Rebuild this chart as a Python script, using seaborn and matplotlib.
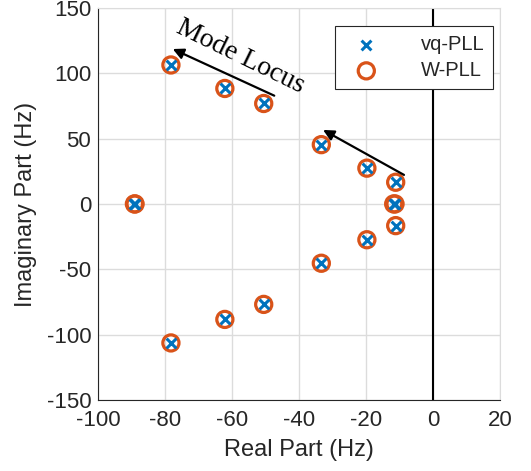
import numpy as np
import pandas as pd
import matplotlib
matplotlib.use("Agg")
import matplotlib.pyplot as plt
import seaborn as sns

# Eigenvalues (Hz)
real_vq = [-89.2, -89.0, -78.3, -62.2, -50.6, -33.4, -19.8, -11.2, -11.8, -11.4, -11.2, -19.8, -33.4, -50.6, -62.2, -78.3]
imag_vq = [0.0, 0.0, 106.4, 88.4, 76.9, 45.4, 27.4, 16.6, 0.0, 0.0, -16.6, -27.4, -45.4, -76.9, -88.4, -106.4]
real_w = [-89.2, -89.0, -78.3, -62.2, -50.6, -33.4, -19.8, -11.2, -11.8, -11.4, -11.2, -19.8, -33.4, -50.6, -62.2, -78.3]
imag_w = [0.0, 0.0, 106.4, 88.4, 76.9, 45.4, 27.4, 16.6, 0.0, 0.0, -16.6, -27.4, -45.4, -76.9, -88.4, -106.4]
labels = ["vq-PLL", "W-PLL"]
xticks = [-100, -80, -60, -40, -20, 0, 20]
yticks = [-150, -100, -50, 0, 50, 100, 150]

sns.set_theme(style="whitegrid")
plt.rcParams['font.family'] = ['Liberation Sans', 'DejaVu Sans']
plt.rcParams['axes.unicode_minus'] = False

blue = "#0072BD"
orange = "#D95319"

fig = plt.figure(figsize=(5.31, 4.71), dpi=100)
ax = fig.add_axes([0.185, 0.151, 0.757, 0.832])

df_w = pd.DataFrame({"re": real_w, "im": imag_w})
df_vq = pd.DataFrame({"re": real_vq, "im": imag_vq})

sns.scatterplot(data=df_w, x="re", y="im", ax=ax, marker="o", s=135,
                facecolors="none", edgecolor=orange, linewidth=2.3, label=labels[1], zorder=3)
sns.scatterplot(data=df_vq, x="re", y="im", ax=ax, marker="x", s=50,
                color=blue, linewidth=2.2, label=labels[0], zorder=4)

ax.axvline(0, color="black", linewidth=1.5, zorder=2)

ax.set_xlim(-100, 20)
ax.set_ylim(-150, 150)
ax.set_xticks(xticks)
ax.set_yticks(yticks)
ax.set_xlabel("Real Part (Hz)", fontsize=17, color="#262626", labelpad=6)
ax.set_ylabel("Imaginary Part (Hz)", fontsize=17, color="#262626", labelpad=7)
ax.tick_params(axis="both", labelsize=16, colors="#262626", direction="in", length=4, width=0.8)
ax.tick_params(axis="x", pad=7)
ax.tick_params(axis="y", pad=5)
ax.set_facecolor("white")
ax.grid(True, color="#dcdcdc", linewidth=1.0)
for s in ax.spines.values():
    s.set_color("#262626")
    s.set_linewidth(0.8)
ax.spines["top"].set_color("#dcdcdc")
ax.spines["right"].set_color("#dcdcdc")

# arrows
ax.annotate("", xy=(-78.5, 119.5), xytext=(-46.7, 82.0),
            arrowprops=dict(arrowstyle="-|>", color="black", lw=1.6, mutation_scale=16))
ax.annotate("", xy=(-33.6, 57.7), xytext=(-8.0, 21.2),
            arrowprops=dict(arrowstyle="-|>", color="black", lw=1.6, mutation_scale=16))
ax.text(-57.5, 113.0, "Mode Locus", rotation=-26, rotation_mode="anchor",
        ha="center", va="center", fontsize=20, family="Liberation Serif", color="black")

handles, labs = ax.get_legend_handles_labels()
order = [labs.index(labels[0]), labs.index(labels[1])]
leg = ax.legend([handles[i] for i in order], [labs[i] for i in order],
                loc="upper right", bbox_to_anchor=(0.983, 0.954), borderaxespad=0, fontsize=14.5,
                frameon=True, fancybox=False, edgecolor="#262626", framealpha=1,
                borderpad=0.45, handletextpad=1.6, labelspacing=0.35, handlelength=2.2)
leg.get_frame().set_linewidth(0.8)

fig.savefig("out.png", dpi=100)
